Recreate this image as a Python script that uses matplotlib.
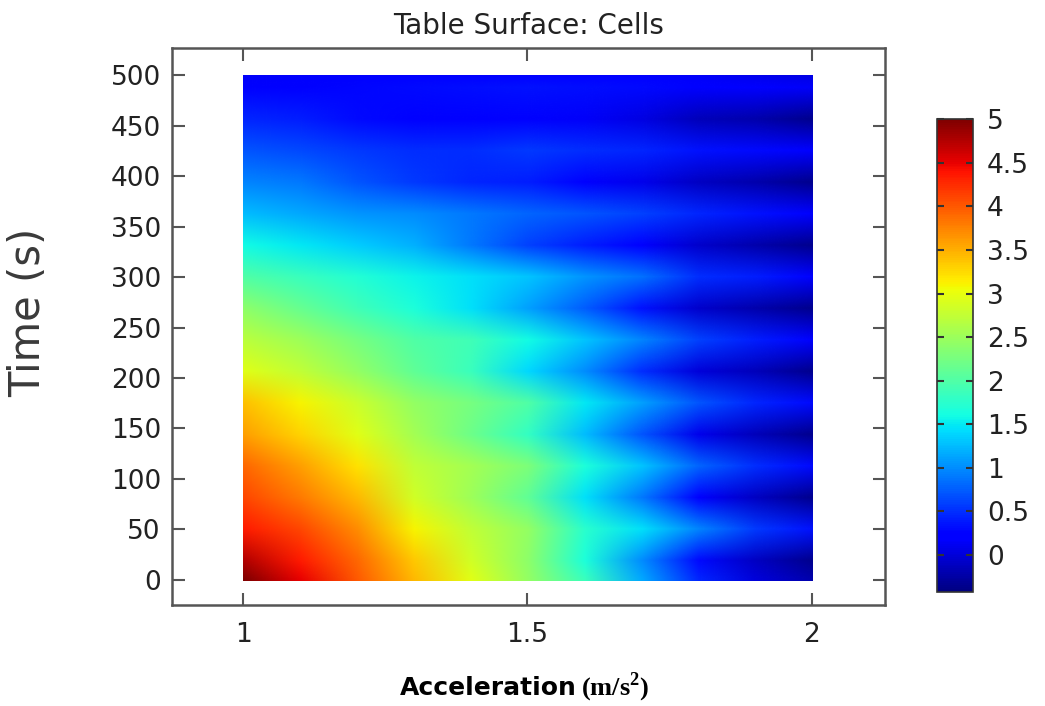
import matplotlib
matplotlib.use('Agg')
import matplotlib.pyplot as plt
from matplotlib.image import NonUniformImage
from matplotlib.colors import Normalize
from matplotlib.patches import Rectangle
import numpy as np

plt.rcParams['font.family'] = 'DejaVu Sans'
plt.rcParams['mathtext.fontset'] = 'custom'
plt.rcParams['mathtext.bf'] = 'Liberation Serif:bold'
plt.rcParams['mathtext.rm'] = 'Liberation Serif:bold'

# acceleration grid (m/s^2) and time rows (s) of the table surface
accel = [1.0, 1.1, 1.2, 1.3, 1.4, 1.5, 1.6, 1.7, 1.8, 1.9, 2.0]
time = [0, 18.75, 50, 81.25, 112.5, 143.75, 175, 206.25, 237.5, 268.75,
        300, 331.25, 362.5, 393.75, 425, 456.25, 487.5, 500]

# cell values, one row per time entry
cells = [
    [5.00, 4.50, 4.00, 3.45, 2.95, 2.45, 1.85, 1.15, 0.45, 0.00, -0.20],
    [4.75, 4.35, 3.90, 3.35, 2.85, 2.40, 1.65, 1.00, 0.30, -0.10, -0.35],
    [4.35, 4.10, 3.70, 3.10, 2.75, 2.45, 1.75, 1.45, 0.95, 0.55, 0.35],
    [4.10, 3.80, 3.45, 2.85, 2.50, 2.10, 1.45, 0.90, 0.25, -0.10, -0.35],
    [3.90, 3.60, 3.20, 2.75, 2.55, 2.30, 1.65, 1.30, 0.80, 0.50, 0.30],
    [3.60, 3.30, 2.95, 2.55, 2.20, 1.80, 1.25, 0.70, 0.10, -0.15, -0.35],
    [3.40, 3.10, 2.80, 2.45, 2.25, 2.00, 1.50, 1.10, 0.70, 0.45, 0.30],
    [2.95, 2.75, 2.45, 2.10, 1.85, 1.40, 1.00, 0.50, 0.00, -0.15, -0.35],
    [2.70, 2.50, 2.25, 2.00, 1.90, 1.60, 1.30, 0.95, 0.60, 0.40, 0.25],
    [2.40, 2.15, 1.90, 1.65, 1.45, 1.10, 0.75, 0.35, -0.05, -0.20, -0.35],
    [2.00, 1.85, 1.70, 1.55, 1.45, 1.30, 1.05, 0.85, 0.50, 0.40, 0.25],
    [1.60, 1.50, 1.35, 1.20, 0.90, 0.60, 0.40, 0.20, -0.05, -0.20, -0.35],
    [1.25, 1.15, 1.05, 1.00, 0.90, 0.80, 0.70, 0.60, 0.45, 0.35, 0.25],
    [0.95, 0.90, 0.70, 0.55, 0.45, 0.40, 0.25, 0.10, -0.10, -0.20, -0.35],
    [0.70, 0.65, 0.55, 0.50, 0.50, 0.55, 0.50, 0.45, 0.35, 0.30, 0.25],
    [0.45, 0.40, 0.30, 0.20, 0.20, 0.25, 0.15, 0.05, -0.15, -0.20, -0.35],
    [0.25, 0.25, 0.28, 0.30, 0.32, 0.35, 0.32, 0.30, 0.25, 0.20, 0.15],
    [0.15, 0.18, 0.20, 0.22, 0.25, 0.25, 0.25, 0.22, 0.15, 0.10, 0.05],
]

cbar_ticks = [0, 0.5, 1, 1.5, 2, 2.5, 3, 3.5, 4, 4.5, 5]
cbar_labels = ['0', '0.5', '1', '1.5', '2', '2.5', '3', '3.5', '4', '4.5', '5']

fig = plt.figure(figsize=(10.45, 7.06), dpi=100)
ax = fig.add_axes([0.1646, 0.143, 0.682, 0.789])

# bilinear surface over the (non-uniform) table grid
im = NonUniformImage(ax, interpolation='bilinear', cmap='jet',
                     norm=Normalize(vmin=-0.43, vmax=5.0),
                     extent=(accel[0], accel[-1], time[0], time[-1]))
im.set_data(accel, time, np.array(cells))
ax.add_image(im)
# keep the surface inside the table domain only
im.set_clip_path(Rectangle((accel[0], time[0]), accel[-1] - accel[0],
                           time[-1] - time[0], transform=ax.transData))

ax.set_xlim(0.875, 2.128)
ax.set_ylim(-25, 527)
ax.set_xticks([1, 1.5, 2])
ax.set_xticklabels(['1', '1.5', '2'])
ax.set_yticks(range(0, 501, 50))
ax.tick_params(direction='in', length=9, width=1.5, color='#555555',
               top=True, right=True, labelsize=19, labelcolor='#222222', pad=8)
ax.tick_params(axis='x', pad=12)
for sp in ax.spines.values():
    sp.set_color('#555555')
    sp.set_linewidth(1.8)

ax.set_title('Table Surface: Cells', fontsize=20, color='#222222', pad=10)

fig.text(0.027, 0.558, 'Time (s)', rotation=90, fontsize=30, color='#3a3a3a',
         ha='center', va='center')
# x label: bold sans word plus serif unit, as in the source figure
fig.text(0.552, 0.025, 'Acceleration', fontsize=18, fontweight='bold',
         family='Liberation Sans Narrow', ha='right', va='center')
fig.text(0.556, 0.027, r'(m/s$^{\mathbf{2}}$)', fontsize=19, fontweight='bold',
         family='Liberation Serif', ha='left', va='center')

cax = fig.add_axes([0.897, 0.161, 0.034, 0.67])
cb = fig.colorbar(im, cax=cax, ticks=cbar_ticks)
cb.ax.set_yticklabels(cbar_labels)
cb.outline.set_edgecolor('#333333')
cb.outline.set_linewidth(1.2)
cb.ax.tick_params(direction='in', left=True, right=True, length=5, width=1.5,
                  color='#333333', labelsize=19, labelcolor='#222222', pad=10)

fig.savefig('out.png', dpi=100)
